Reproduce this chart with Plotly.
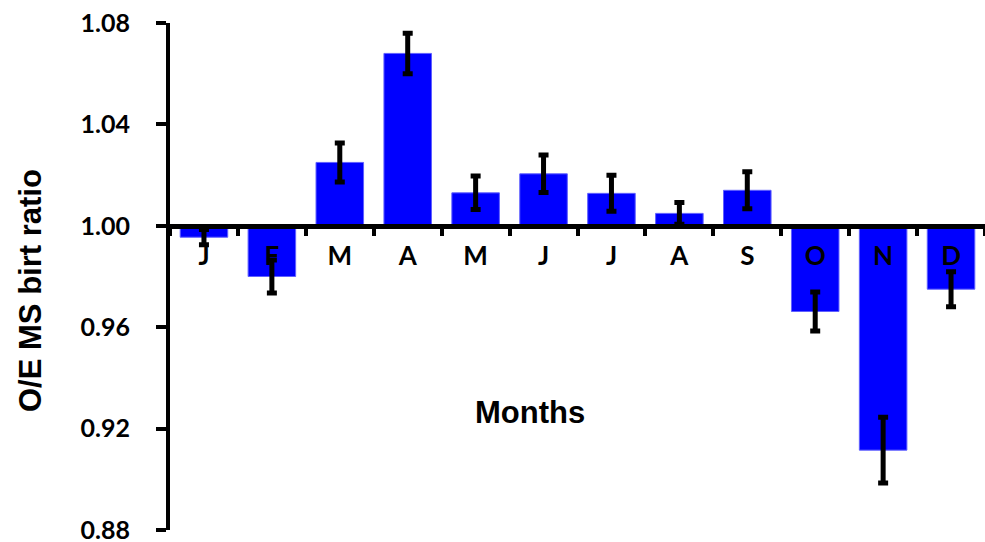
import plotly.graph_objects as go

months = ["J", "F", "M", "A", "M", "J", "J", "A", "S", "O", "N", "D"]
ratio = [0.9955, 0.980, 1.025, 1.068, 1.013, 1.0205, 1.0128, 1.0049, 1.014, 0.9662, 0.9115, 0.975]
err = [0.003, 0.0065, 0.0077, 0.008, 0.0066, 0.0074, 0.0071, 0.0043, 0.0073, 0.0077, 0.013, 0.0069]
y_ticks = [0.88, 0.92, 0.96, 1.00, 1.04, 1.08]
baseline = 1.0

x = list(range(len(months)))
fig = go.Figure()
fig.add_trace(go.Bar(
    x=x,
    y=[v - baseline for v in ratio],
    base=baseline,
    width=0.7,
    marker=dict(color="#0000FF", line=dict(color="#6060ff", width=1)),
    error_y=dict(type="data", array=err, visible=True, color="black", thickness=5, width=5),
))

W, H = 985, 542
ml, mr, mt, mb = 170, 0, 23, 12
pw, ph = W - ml - mr, H - mt - mb

fig.update_layout(
    width=W, height=H,
    margin=dict(l=ml, r=mr, t=mt, b=mb, autoexpand=False),
    paper_bgcolor="white", plot_bgcolor="white",
    showlegend=False,
    xaxis=dict(
        range=[-0.5, len(months) - 0.5],
        tickmode="array", tickvals=x, ticktext=months,
        ticks="outside", ticklen=5, tickcolor="rgba(0,0,0,0)",
        showline=True, linecolor="black", linewidth=5,
        anchor="free", position=(baseline - y_ticks[0]) / (y_ticks[-1] - y_ticks[0]),
        showgrid=False, zeroline=False, automargin=False,
        tickfont=dict(family="Lato", size=26, color="black", weight="bold"),
        minor=dict(tick0=0.5, dtick=1, ticks="outside", ticklen=7, tickwidth=4, tickcolor="black", showgrid=False),
    ),
    yaxis=dict(
        range=[y_ticks[0], y_ticks[-1]],
        tickmode="array", tickvals=y_ticks, ticktext=[f"{v:.2f}" for v in y_ticks],
        ticks="outside", ticklen=10, tickwidth=4, tickcolor="black",
        showline=True, linecolor="black", linewidth=4,
        showgrid=False, zeroline=False, automargin=False,
        ticklabelstandoff=21, ticklabeloverflow="allow",
        tickfont=dict(family="Lato", size=25, color="black", weight="bold"),
    ),
    annotations=[
        dict(text="O/E MS birt ratio", textangle=-90, xref="paper", yref="paper",
             x=(30 - ml) / pw, y=(H - mb - 291) / ph, xanchor="center", yanchor="middle",
             showarrow=False, font=dict(family="Liberation Sans", size=31, color="black", weight="bold")),
        dict(text="Months", xref="paper", yref="paper",
             x=(530 - ml) / pw, y=(H - mb - 412) / ph, xanchor="center", yanchor="middle",
             showarrow=False, font=dict(family="Liberation Sans", size=31, color="black", weight="bold")),
    ],
)

fig.write_html("out.html", config={"displayModeBar": False},
               post_script="document.body.style.margin='0';document.body.style.overflow='hidden';")
